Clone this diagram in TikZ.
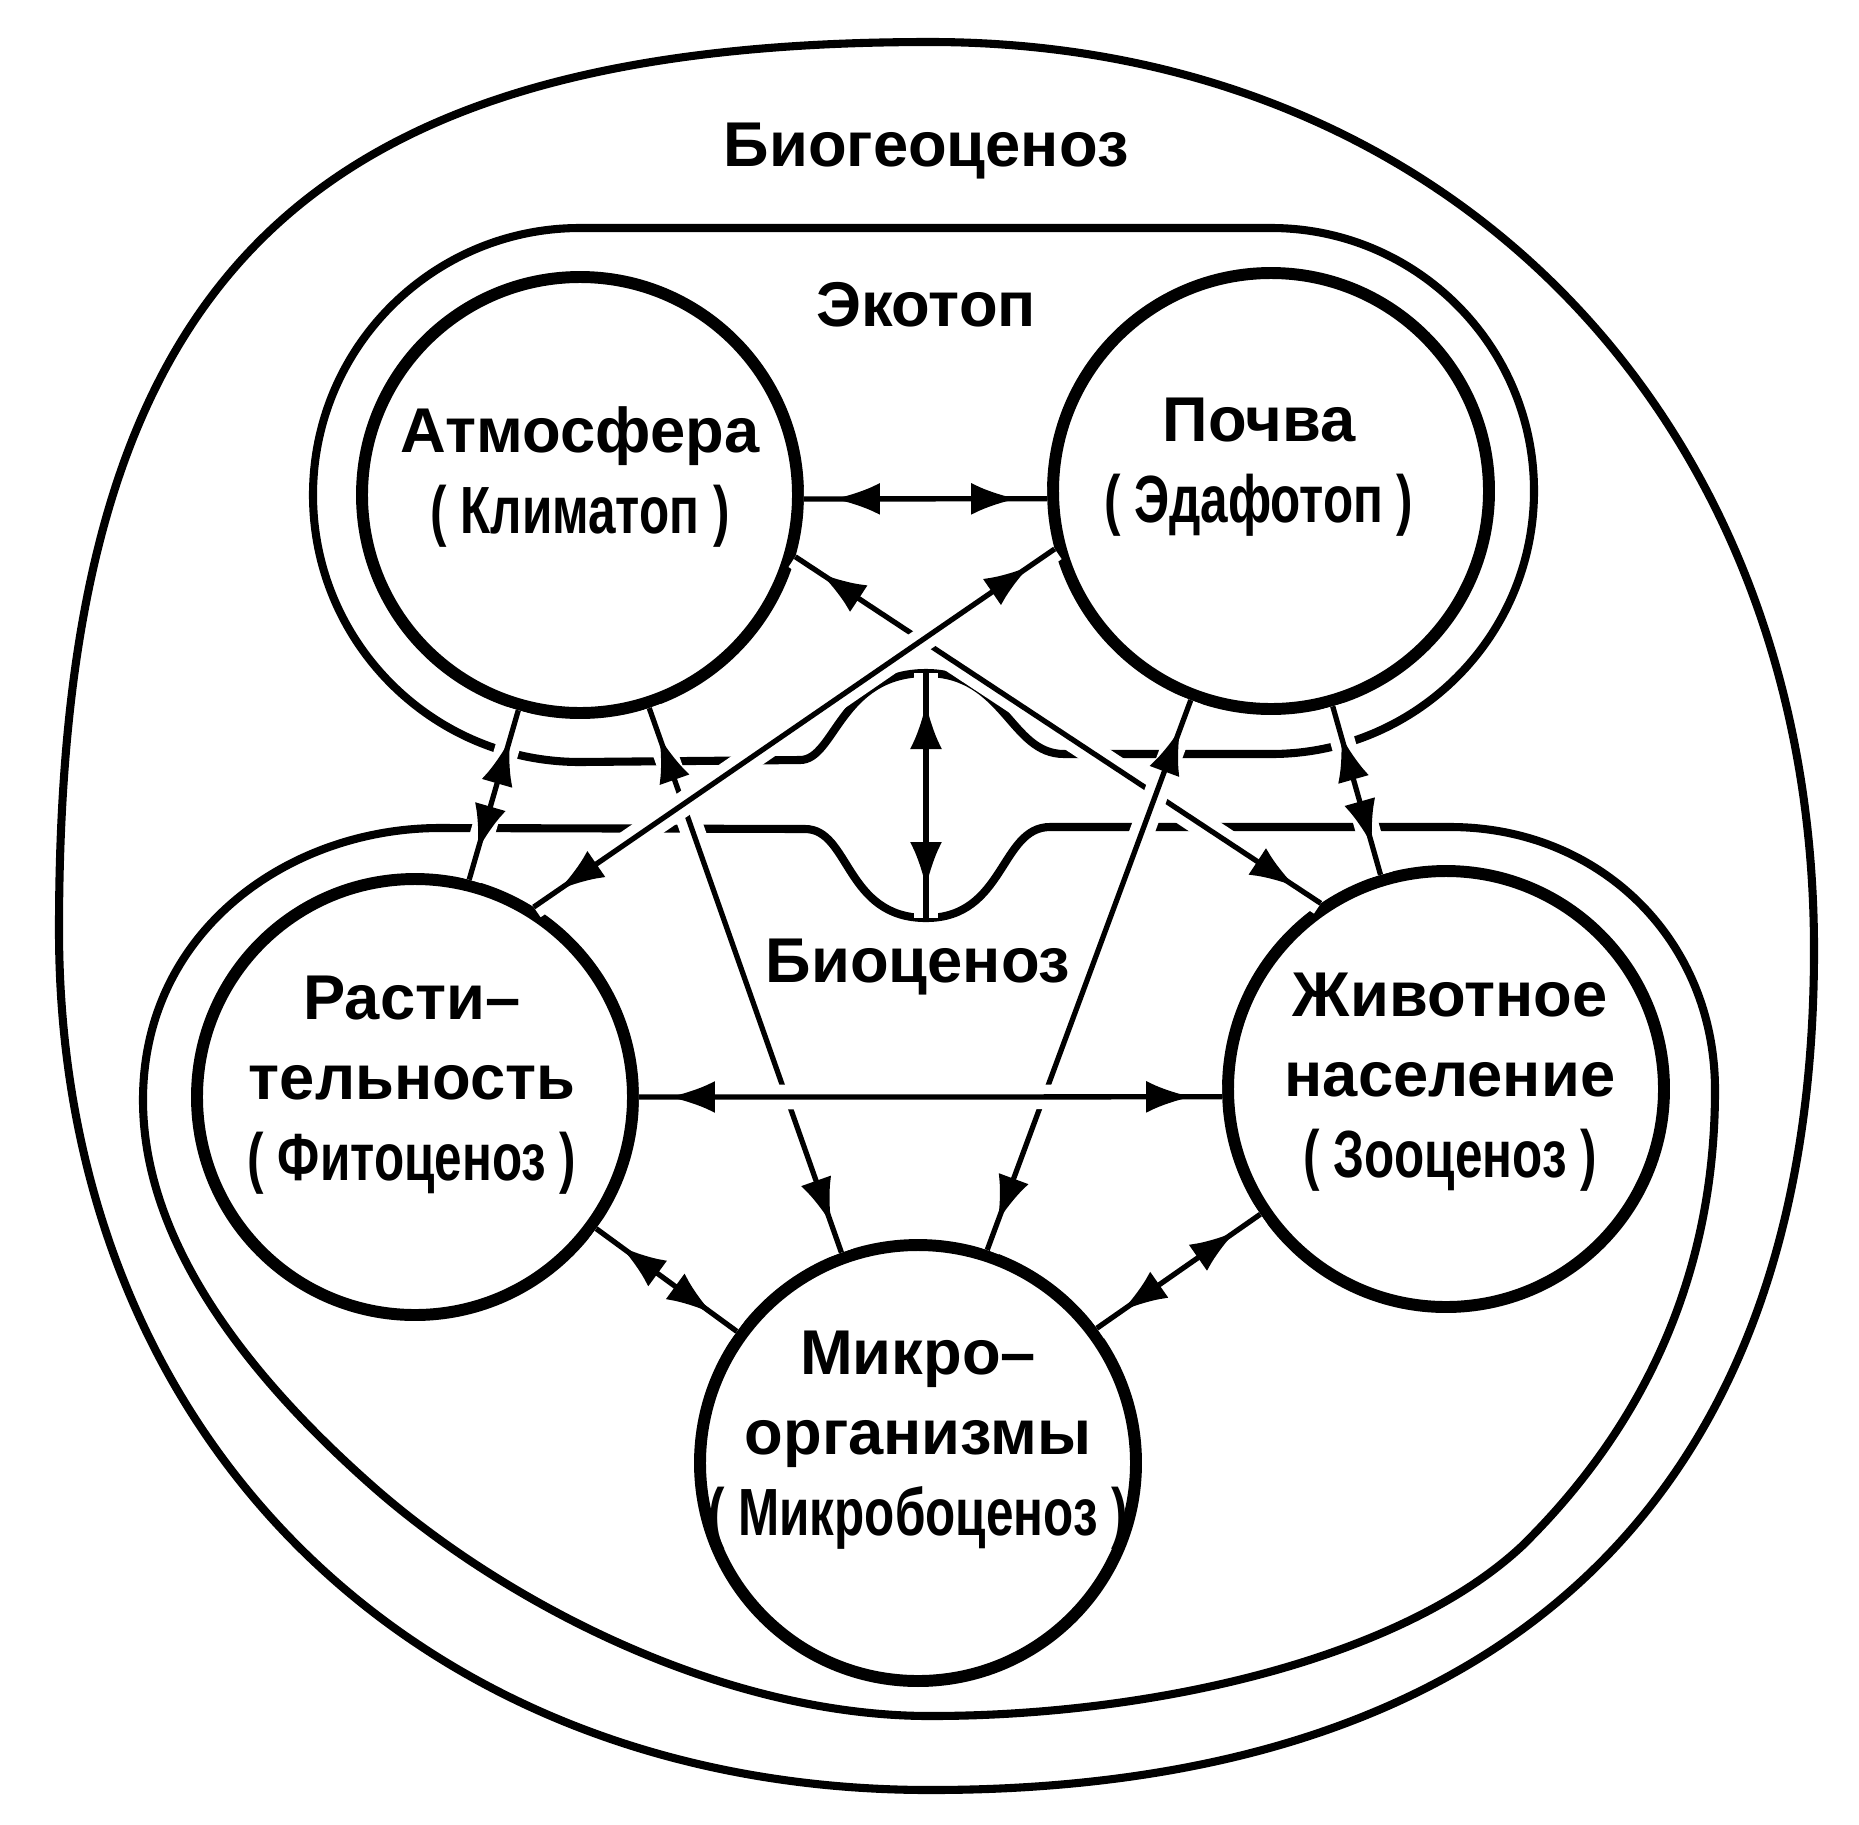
\documentclass[tikz,border=0pt]{standalone}
\usepackage{fontspec}
\setmainfont{Liberation Sans}
\newfontfamily\narrowfont[FakeStretch=0.74]{Liberation Sans}
\newcommand{\narrowline}[1]{{\narrowfont\bfseries\fontsize{19}{23}\selectfont #1}}
\usetikzlibrary{arrows.meta, decorations.markings}

\begin{document}
\begin{tikzpicture}[
            sphere/.style={circle, draw, line width=3.4pt, fill=white, minimum size=4.36cm, inner sep=0pt}, % the five components
            shell/.style={line width=2.3pt}, % outlines of the groups
            caption/.style={font=\fontsize{18}{23}\selectfont\bfseries, align=center, inner sep=0pt},
            link/.style={line width=1.5pt, preaction={draw=white, line width=7pt}, postaction={decorate},
                decoration={markings,
                    mark=at position 3mm with {\arrowreversed{Latex[length=4.6mm,width=3.2mm]}},
                    mark=at position -3mm with {\arrow{Latex[length=4.6mm,width=3.2mm]}}}} % heads set in from both ends
            ]
        \useasboundingbox (0,0) rectangle (18.59,-18.24);

                % Biogeocenosis, the outer border
                \draw[shell] (9.30,-0.42) .. controls (14.50,-0.42) and (18.14,-4.20) .. (18.14,-9.50)
                    .. controls (18.14,-15.20) and (14.80,-17.90) .. (9.30,-17.90)
                    .. controls (4.20,-17.90) and (0.59,-14.40) .. (0.59,-9.30)
                    .. controls (0.59,-2.90) and (2.90,-0.42) .. cycle;

                % Ekotop, round the atmosphere and the soil
                \draw[shell] (5.80,-2.28) -- (12.71,-2.28) arc[start angle=90, end angle=-90, radius=2.63]
                    -- (10.64,-7.54) .. controls (10.10,-7.54) and (10.05,-6.73) .. (9.26,-6.73)
                    .. controls (8.40,-6.73) and (8.35,-7.60) .. (8.00,-7.60)
                    -- (5.80,-7.62) arc[start angle=270, end angle=90, radius=2.67] -- cycle;

                % Biocenosis, round the three living parts
                \draw[shell] (4.40,-8.28) -- (8.05,-8.29) .. controls (8.50,-8.29) and (8.45,-9.18) .. (9.26,-9.18)
                    .. controls (10.05,-9.18) and (10.00,-8.27) .. (10.50,-8.27) -- (14.50,-8.27)
                    .. controls (16.00,-8.27) and (17.15,-9.40) .. (17.15,-10.90)
                    .. controls (17.15,-12.80) and (16.40,-14.30) .. (15.22,-15.46)
                    .. controls (14.00,-16.60) and (11.50,-17.16) .. (9.30,-17.16)
                    .. controls (7.20,-17.16) and (5.00,-16.00) .. (3.69,-14.83)
                    .. controls (2.60,-13.86) and (1.43,-12.50) .. (1.43,-11.00)
                    .. controls (1.43,-9.30) and (2.90,-8.28) .. cycle;

                \coordinate (ekopeak) at (9.26,-6.73);
                \coordinate (biodip) at (9.26,-9.18);

                % Group names
                \node[caption] (biogeo) at (9.26,-1.51) {Биогеоценоз};
                \node[caption] (ekotop) at (9.26,-3.05) {Экотоп};
                \node[caption] (biocen) at (9.18,-9.67) {Биоценоз};

                % Components
                \node[sphere] (atm) at (5.80,-4.95) {};
                \node[sphere] (pochva) at (12.71,-4.91) {};
                \node[sphere] (rast) at (4.15,-10.97) {};
                \node[sphere] (zhiv) at (14.46,-10.89) {};
                \node[sphere] (mikro) at (9.18,-14.63) {};

                \node[caption] (atmtext) at ([yshift=1.8mm]atm.center) {Атмосфера\\\narrowline{( Климатоп )}};
                \node[caption] (pochvatext) at ([xshift=-1.2mm, yshift=2.4mm]pochva.center) {Почва\\\narrowline{( Эдафотоп )}};
                \node[caption] (rasttext) at ([xshift=-0.3mm, yshift=1.2mm]rast.center) {Расти–\\тельность\\\narrowline{( Фитоценоз )}};
                \node[caption] (zhivtext) at ([xshift=0.4mm, yshift=0.7mm]zhiv.center) {Животное\\население\\\narrowline{( Зооценоз )}};
                \node[caption] (mikrotext) at ([yshift=2.3mm]mikro.center) {Микро–\\организмы\\\narrowline{( Микробоценоз )}};

                % Links between the components
                \draw[link] (atm.-16) -- (zhiv.124);
                \draw[link] (atm.288) -- (mikro.110);
                \draw[link] (pochva.249) -- (mikro.72);
                \draw[link] (rast.58) -- (pochva.195);
                \draw[link] (atm.-1) -- (pochva.182);
                \draw[link] (atm.254) -- (rast.76);
                \draw[link] (pochva.286) -- (zhiv.107);
                \draw[link] (rast.0) -- (zhiv.182);
                \draw[link] (rast.324) -- (mikro.144);
                \draw[link] (mikro.37) -- (zhiv.214);
                \draw[link] (ekopeak) -- (biodip);

            \end{tikzpicture}
\end{document}
